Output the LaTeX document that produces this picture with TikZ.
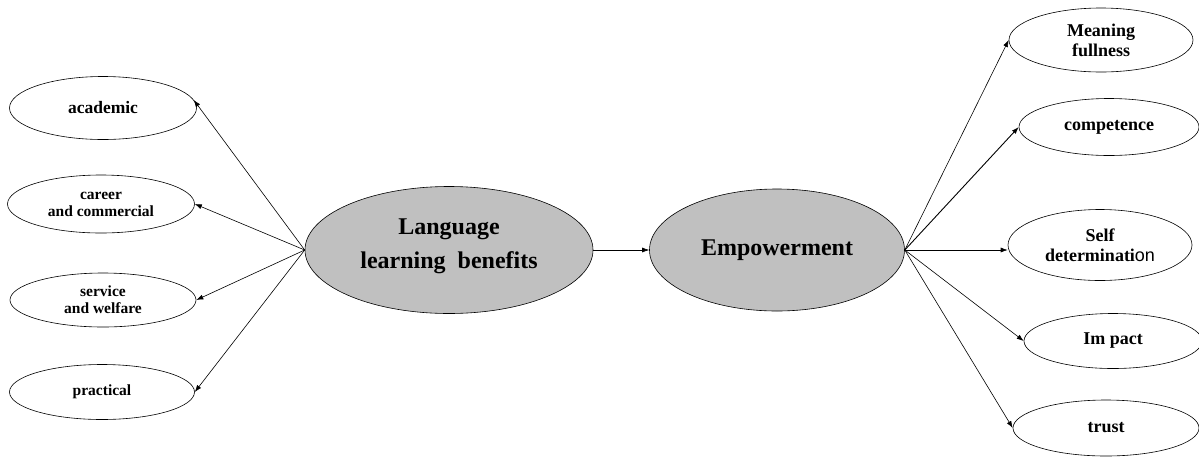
\documentclass[tikz,border=0pt]{standalone}
\usepackage{fontspec}
\setmainfont{Liberation Serif}
\newfontfamily\arialfont{Liberation Sans}
\usetikzlibrary{shapes.geometric,arrows.meta}
\definecolor{hubgray}{RGB}{192,192,192}

\begin{document}
\begin{tikzpicture}[
    x = 1pt, y = -1pt,
    leaf/.style = {ellipse, draw, line width=0.6pt, inner sep=0pt, align=center,
        font=\bfseries\fontsize{15.5}{17}\selectfont},
    rleaf/.style = {leaf, font=\bfseries\fontsize{18}{20}\selectfont},
    hub/.style = {leaf, fill=hubgray, font=\bfseries\fontsize{24}{34}\selectfont},
    link/.style = {-{Latex[length=7pt,width=5pt]}, line width=0.6pt}]

\useasboundingbox (0,0) rectangle (1199,456);

% middle
\node[hub, minimum width=288pt, minimum height=127pt] (llb) at (449,250)
      {Language\\learning\ \ benefits\rule[-12pt]{0pt}{12pt}};
\node[hub, minimum width=255pt, minimum height=122pt] (emp) at (777,250) {Empowerment};

% left side
\node[leaf, minimum width=187pt, minimum height=63pt,
      font=\bfseries\fontsize{17.5}{19}\selectfont] (academic) at (103,108) {academic};
\node[leaf, minimum width=187pt, minimum height=58pt] (career) at (101,204) {career\\and commercial};
\node[leaf, minimum width=186pt, minimum height=54pt] (service) at (103,300) {service\\and welfare};
\node[leaf, minimum width=185pt, minimum height=55pt] (practical) at (102,392) {practical};

% right side
\node[rleaf, minimum width=184pt, minimum height=64pt] (meaning) at (1101,40) {Meaning\\fullness};
\node[rleaf, minimum width=180pt, minimum height=57pt] (competence) at (1109,127) {competence};
\node[rleaf, minimum width=184pt, minimum height=71pt] (selfdet) at (1100,245)
      {Self\\determinati{\arialfont\mdseries on}};
\node[rleaf, minimum width=178pt, minimum height=55pt] (impact) at (1113,341) {Im pact};
\node[rleaf, minimum width=186pt, minimum height=56pt] (trust) at (1106,428) {trust};

\draw[link] (llb.west) -- (academic.5);
\draw[link] (llb.west) -- (career.east);
\draw[link] (llb.west) -- (service.east);
\draw[link] (llb.west) -- (practical.east);
\draw[link] (llb.east) -- (emp.west);
\draw[link] (emp.east) -- (meaning.west);
\draw[link, line width=0.9pt] (emp.east) -- (competence.west);
\draw[link] (emp.east) -- (emp.east -| selfdet.west);
\draw[link] (emp.east) -- (impact.west);
\draw[link] (emp.east) -- (trust.west);
\end{tikzpicture}
\end{document}
